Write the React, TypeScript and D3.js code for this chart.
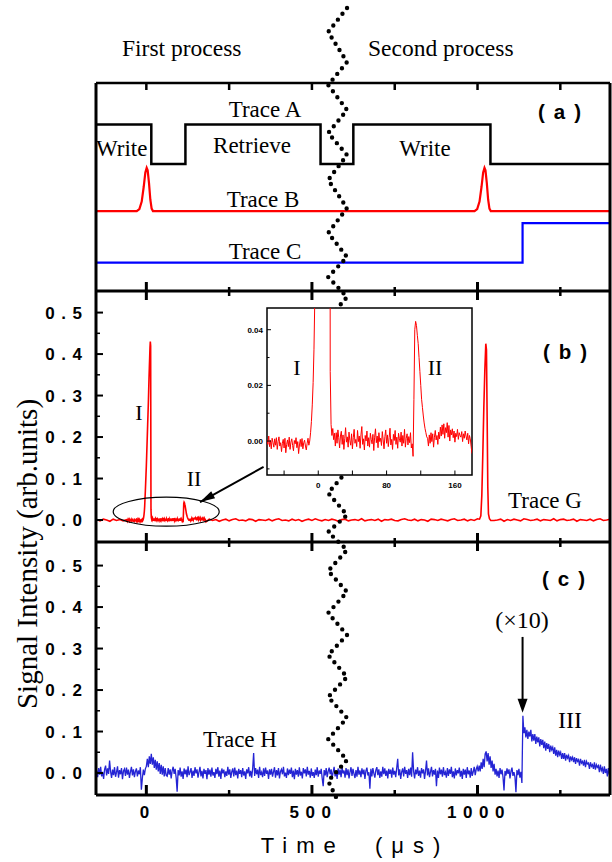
import React from 'react';
import * as d3 from 'd3';

// ---------- data ----------
const majorTimes = [0, 500, 1000];
const minorTimes = [250, 750, 1250];
const yMajor = [0, 0.1, 0.2, 0.3, 0.4, 0.5];
const yMinor = [0.05, 0.15, 0.25, 0.35, 0.45];

// panel (a): schematic traces (arbitrary levels)
const traceATimes = [-152, 15, 118, 526, 625, 1039, 1400];
const traceALevels = [4.0, 3.05, 4.0, 3.05, 4.0, 3.05, 3.05];
const traceBTimes = [-152, -29, -21, -14, -8, -3, 1, 4, 8, 12, 16, 20,
  991, 999, 1006, 1012, 1017, 1021, 1024, 1028, 1032, 1036, 1040, 1400];
const traceBLevels = [1.92, 1.92, 1.97, 2.15, 2.5, 2.85, 2.96, 2.9, 2.6, 2.2, 1.98, 1.92,
  1.92, 1.97, 2.15, 2.5, 2.85, 2.96, 2.9, 2.6, 2.2, 1.98, 1.92, 1.92];
const traceCTimes = [-152, 1136, 1400];
const traceCLevels = [0.68, 1.63, 1.63];

// panel (b): trace G, baseline noise in 1e-3 units, step 10 us
const gNoiseBefore = [1, -2, 2, 0, -3, 2, -1, 1, -2]; // t = -150 .. -70
const gNoiseAfter = [ // t = 190 .. 1400
  2, -1, 1, -3, 0, 2, -2, 1, 3, -1,
  0, -2, 2, 1, -3, 1, 0, -1, 2, -2,
  1, 3, -1, 0, -2, 2, -1, 1, -3, 0,
  2, -1, 3, 0, -2, 1, -1, 2, 0, -3,
  1, 2, -2, 0, 1, -1, 3, -2, 0, 1,
  -1, 2, -3, 1, 0, 2, -1, -2, 1, 3,
  0, -1, 2, -2, 1, 0, -3, 2, 1, -1,
  2, 0, -2, 1, 3, -1, 0, 2, -2, 1,
  -1, 3, 0, -2, 2, 1, -1, 0, 2, -3,
  1, -1, 2, 0, -2, 3, 1, -1, 0, 2,
  -2, 1, 0, -1, 3, -2, 1, 2, -1, 0,
  2, -3, 1, 0, -1, 2, -2, 1, 3, -1,
  0, 2];
const peakIIITimes = [1006, 1010, 1013, 1016, 1019, 1022, 1025, 1027, 1029, 1031, 1033, 1036, 1040];
const peakIIIValues = [0.002, 0.01, 0.06, 0.16, 0.27, 0.36, 0.425, 0.41, 0.25, 0.08, 0.015, 0.003, -0.001];

// inset: trace G from -60 to 180 us, step 1 us, in 1e-4 units
const insetValues = [
  // -60 .. -11
  5, -12, 18, -20, 2, -28, 10, -5, -22, 8,
  -15, 12, -30, -2, 15, -18, -6, -38, -8, 6,
  -25, 10, -42, -12, 4, -20, 14, -30, -4, 8,
  -16, -35, 2, -10, 12, -24, -2, -45, -14, 6,
  -20, 9, -28, -6, 3, -18, -32, -8, 10, -15,
  // -10 .. 16 (peak I)
  0, 30, 70, 130, 210, 330, 520, 700, 900, 1100, 1300, 1550, 1800, 2050, 2300, 2550, 2800,
  3100, 3400, 3650, 3900, 4150, 4300, 4200, 250, 60, 20,
  // 17 .. 109
  45, 5, 28, -18, 30, -8, 40, 12, -25, 18,
  35, -12, 22, -30, 8, 48, -4, 15, -22, 32,
  2, -15, 26, -28, 12, 42, -8, 6, -20, 38,
  -2, 18, -26, 22, 52, -12, 8, -32, 20, 0,
  36, -18, 12, -22, 28, 6, -10, 24, -34, 14,
  44, -6, 18, -24, 30, -2, 10, -16, 34, 4,
  -28, 16, 40, -8, 22, -20, 12, 46, -14, 6,
  -30, 24, 2, 38, -12, 14, -26, 28, 8, -4,
  32, -18, 20, -8, 42, -22, 10, 26, -14, 16,
  -6, 30, -25,
  // 110 .. 128 (peak II)
  -10, -55, 150, 400, 430, 415, 380, 350, 300, 250, 200, 150, 120, 90, 65, 45, 30, 15, 10,
  // 129 .. 180
  -18, 22, -8, 30, -2, 26, -22, 14, 38, 4,
  20, -12, 32, 8, 50, 18, 58, 24, 62, 10,
  48, 30, 66, 14, 56, 0, 40, 22, 44, 12,
  36, -4, 28, 16, 42, 6, 30, 20, 14, 34,
  -2, 26, 10, 36, 18, 4, 28, -10, 20, 8,
  -20, -45];
const insetXTicks = [-40, 0, 40, 80, 120, 160];
const insetXLabels = [0, 80, 160];
const insetYMajor = [0, 0.02, 0.04];
const insetYMinor = [-0.01, 0.01, 0.03];

// panel (c): trace H, 1e-3 units, step 3 us from -150
const traceHValues = [
  // -150 .. -3
  6, -10, 12, -4, 15, -8, 3, -14, 9, 18,
  -6, 11, -2, 30, 4, -12, 8, -5, 14, -9,
  2, 16, -11, 7, -3, 12, -15, 5, 10, -7,
  13, -4, 8, -12, 3, 15, -6, 9, -10, 4,
  11, -8, 6, -3, 14, -40, -12, 8, -5, 10,
  // 0 .. 60
  16, 34, 14, 40, 22, 46, 20, 38, 12, 32, 8, 28, 4, 24, -2, 20, -4, 16, -8, 12, -6,
  // 63 .. 1005
  -8, 12, -4, 9, -13, 6, 15, -2, 10, -11, -45, 7, -6, 13, -9,
  4, -14, 11, -3, 8, -10, 16, -5, 2, 12, -12, 6, -7, 14, -1,
  9, -11, 3, 15, -8, 5, -13, 10, -2, 7, -15, 12, -4, 8, -9,
  13, -6, 2, -12, 10, -3, 14, -9, 6, -14, 11, -1, 8, -10, 4,
  -7, 15, -4, 9, -12, 3, 11, -8, 13, -5, 6, -13, 10, -2, 7,
  -10, 12, -6, 4, -14, 9, -1, 14, -8, 5, -11, 10, 48, -7, 12,
  -3, 8, -12, 15, -5, 2, -10, 11, -7, 13, -2, 6, -14, 9, -4,
  10, -9, 3, 14, -11, 7, -6, 12, -13, 4, 9, -3, 15, -8, 1,
  -12, 11, -5, 8, -2, 13, -10, 6, -15, 10, -4, 7, -9, 14, -6,
  3, -13, 12, -1, 9, -8, 15, -4, 5, -11, 11, -7, 2, -12, 8,
  -5, 14, -9, 6, -2, 10, -13, -32, 7, -6, 12, -10, 4, 13, -3,
  9, -12, 2, 15, -8, 5, -14, 11, -4, 8, -10, 13, -1, 6, -11,
  12, -5, 9, -13, 3, 14, -7, 10, -2, -12, 7, -9, 15, -4, 6,
  -10, 11, -3, 8, -14, 5, 13, -6, 2, -38, 10, -8, 12, -1, -11,
  7, 14, -5, 9, -12, 4, -9, 15, -3, 11, -7, 6, -13, 10, -2,
  8, -11, 13, -4, 5, -10, 12, 34, -6, 9, -14, 3, 11, -8, 15,
  -2, 7, -12, 10, -5, 13, -9, 50, 4, -13, 8, -3, 14, -7, 6,
  -11, 12, -1, 9, -14, 5, 30, -6, 11, -10, 3, 15, -8, 7, -4,
  10, -32, 6, -12, 13, -3, 8, -9, 14, -5, 2, -11, 12, -7, 9,
  -2, 15, -10, 4, -13, 11, -6, 7, -1, 13, -9, 5, -14, 10, -4,
  8, -12, 14, -3, 6, -11, 12, -7, 3, 15, -5, 9, 16, 4, 18,
  // 1008 .. 1050
  4, 26, 10, 34, 14, 46, 52, 28, 48, 20, 40, 12, 30, 4, 22,
  // 1053 .. 1134
  -4, 10, -8, 6, -12, 12, -3, 8, -10, -42, 5, -6, 11, -2, 9, -13, 4, 13, -7, 2, -9, -46, 7, -5, 10, -11, 3, -24,
  // 1137 .. 1398 (III)
  138,
  96, 110, 86, 104, 82, 100, 88, 104, 76, 94,
  78, 94, 70, 88, 74, 86, 64, 82, 68, 80,
  60, 76, 54, 72, 58, 70, 50, 66, 56, 62,
  46, 62, 42, 56, 38, 54, 44, 50, 34, 48,
  34, 48, 30, 44, 36, 42, 26, 40, 32, 38,
  26, 38, 22, 36, 28, 32, 18, 34, 24, 28,
  18, 32, 14, 28, 22, 24, 10, 26, 16, 20,
  10, 26, 8, 20, 14, 18, 2, 20, 6, 12,
  -2, 16, 0, 10, -8, 12, -4];

// ---------- layout ----------
const W = 612, H = 862;
const L = 96, R = 610;
const A_TOP = 83, AB = 291, BC = 542, C_BOT = 795;

const x = d3.scaleLinear().domain([-152, 1400]).range([L, R]);
const yA = d3.scaleLinear().domain([0, 5]).range([AB, A_TOP]);
const yB = d3.scaleLinear().domain([-0.053, 0.552]).range([BC, AB]);
const yC = d3.scaleLinear().domain([-0.053, 0.552]).range([C_BOT, BC + 2]);
const xI = d3.scaleLinear().domain([-60, 180]).range([267, 472]);
const yI = d3.scaleLinear().domain([-0.0122, 0.0478]).range([475, 308]);

// break marker turning points (decoration)
const breakTurnY = [8, 32, 62, 85, 110, 133, 155, 180, 208, 233, 257, 277, 297, 319, 341, 362, 384,
  406, 428, 450, 471, 493, 515, 532, 550, 571, 592, 613, 635, 655, 677, 697, 718, 739, 760, 781];

const serif = '"Liberation Serif", "Times New Roman", serif';
const sans = '"Liberation Sans", Arial, sans-serif';

type P = [number, number];

const App = () => {
  const stepLine = (ys: d3.ScaleLinear<number, number>) =>
    d3.line<P>().x(d => x(d[0])).y(d => ys(d[1])).curve(d3.curveStepAfter);
  const plainLine = (xs: d3.ScaleLinear<number, number>, ys: d3.ScaleLinear<number, number>) =>
    d3.line<P>().x(d => xs(d[0])).y(d => ys(d[1]));

  const aPts: P[] = traceATimes.map((t, i) => [t, traceALevels[i]]);
  const bPts: P[] = traceBTimes.map((t, i) => [t, traceBLevels[i]]);
  const cPts: P[] = traceCTimes.map((t, i) => [t, traceCLevels[i]]);

  const insetPts: P[] = insetValues.map((v, i) => [-60 + i, v / 10000]);
  const gPts: P[] = [
    ...gNoiseBefore.map((v, i) => [-150 + 10 * i, v / 1000] as P),
    ...insetPts,
    ...gNoiseAfter.map((v, i) => [190 + 10 * i, v / 1000] as P).filter(([t]) => t < 1005 || t > 1040),
    ...peakIIITimes.map((t, i) => [t, peakIIIValues[i]] as P),
  ].sort((a, b) => a[0] - b[0]);
  const hPts: P[] = traceHValues.map((v, i) => [-150 + 3 * i, v / 1000]);

  const zig: P[] = breakTurnY.map((yy, i) => [x(i % 2 === 0 ? 606 : 549), yy]);
  zig.push([x(577), 800]);
  const zigPath = d3.line<P>()(zig) as string;

  const arrowHead = (tx: number, ty: number, fx: number, fy: number, len: number, half: number) => {
    const dx = tx - fx, dy = ty - fy, n = Math.hypot(dx, dy);
    const ux = dx / n, uy = dy / n;
    const bx = tx - ux * len, by = ty - uy * len;
    return `M${tx},${ty}L${bx - uy * half},${by + ux * half}L${bx + uy * half},${by - ux * half}Z`;
  };
  const arrB = { fx: x(354), fy: yB(0.128), tx: x(162), ty: yB(0.0434) };
  const arrC = { fx: x(1136), fy: yC(0.328), tx: x(1136), ty: yC(0.145) };

  const sepTicks = (yy: number) => (
    <g>
      {majorTimes.map(t => <line key={'M' + t} x1={x(t)} x2={x(t)} y1={yy - 9} y2={yy + 9} stroke="#000" strokeWidth={3} />)}
      {minorTimes.map(t => <line key={'m' + t} x1={x(t)} x2={x(t)} y1={yy - 4} y2={yy + 5} stroke="#000" strokeWidth={2.5} />)}
    </g>
  );

  const yAxisTicks = (ys: d3.ScaleLinear<number, number>) => (
    <g>
      {yMajor.map(v => <line key={'M' + v} x1={L} x2={L + 7} y1={ys(v)} y2={ys(v)} stroke="#000" strokeWidth={2} />)}
      {yMinor.map(v => <line key={'m' + v} x1={L} x2={L + 4} y1={ys(v)} y2={ys(v)} stroke="#000" strokeWidth={1.5} />)}
      {yMajor.map(v => (
        <text key={'t' + v} x={88.5} y={ys(v) + 6} textAnchor="end" fontFamily={sans} fontWeight="bold"
          fontSize={17} letterSpacing={6.5}>{v.toFixed(1)}</text>
      ))}
    </g>
  );

  const tx = (props: any, s: string) => <text fontFamily={serif} fontSize={23} {...props}>{s}</text>;
  const panelLabel = (px: number, py: number, s: string) => (
    <text x={px} y={py} fontFamily={sans} fontWeight="bold" fontSize={20.5} letterSpacing={9}>{s}</text>
  );

  return (
    <svg width={W} height={H} style={{ position: 'absolute', left: 0, top: 0, background: '#fff' }}>
      <defs>
        <clipPath id="clipA"><rect x={L} y={A_TOP} width={R - L} height={AB - A_TOP} /></clipPath>
        <clipPath id="clipB"><rect x={L} y={AB} width={R - L} height={BC - AB} /></clipPath>
        <clipPath id="clipC"><rect x={L} y={BC} width={R - L} height={C_BOT - BC} /></clipPath>
        <clipPath id="clipI"><rect x={267} y={308} width={205} height={167} /></clipPath>
      </defs>
      <rect x={0} y={0} width={W} height={H} fill="#fff" />

      {tx({ x: 122, y: 56, fontSize: 23.5 }, 'First process')}
      {tx({ x: 368, y: 56, fontSize: 23.5 }, 'Second process')}

      {/* panel (a) */}
      <g clipPath="url(#clipA)">
        <path d={stepLine(yA)(aPts) as string} fill="none" stroke="#000" strokeWidth={2.5} />
        <path d={plainLine(x, yA)(bPts) as string} fill="none" stroke="#ff0000" strokeWidth={2.2} />
        <path d={stepLine(yA)(cPts) as string} fill="none" stroke="#0000ff" strokeWidth={2.2} />
      </g>
      {tx({ x: 265, y: 117, textAnchor: 'middle' }, 'Trace A')}
      {tx({ x: 96, y: 156 }, 'Write')}
      {tx({ x: 252, y: 153, textAnchor: 'middle' }, 'Retrieve')}
      {tx({ x: 425, y: 156, textAnchor: 'middle' }, 'Write')}
      {tx({ x: 263, y: 207, textAnchor: 'middle' }, 'Trace B')}
      {tx({ x: 265, y: 259, textAnchor: 'middle' }, 'Trace C')}
      {panelLabel(538, 119, '(a)')}

      {/* panel (b) */}
      <g clipPath="url(#clipB)">
        <path d={plainLine(x, yB)(gPts) as string} fill="none" stroke="#ff0000" strokeWidth={1.6} />
      </g>
      {yAxisTicks(yB)}
      <ellipse cx={x(60)} cy={yB(0.02)} rx={53} ry={14.5} fill="none" stroke="#000" strokeWidth={1.2} />
      <line x1={arrB.fx} y1={arrB.fy} x2={arrB.tx} y2={arrB.ty} stroke="#000" strokeWidth={2} />
      <path d={arrowHead(arrB.tx, arrB.ty, arrB.fx, arrB.fy, 15, 4)} fill="#000" />
      {tx({ x: 139, y: 420, textAnchor: 'middle', fontSize: 22 }, 'I')}
      {tx({ x: 194, y: 486, textAnchor: 'middle', fontSize: 22 }, 'II')}
      {tx({ x: 545, y: 508, textAnchor: 'middle' }, 'Trace G')}
      {panelLabel(543, 359, '(b)')}

      {/* panel (c) */}
      <g clipPath="url(#clipC)">
        <path d={plainLine(x, yC)(hPts) as string} fill="none" stroke="#2424d4" strokeWidth={1.3} />
      </g>
      {yAxisTicks(yC)}
      <line x1={arrC.fx} y1={arrC.fy} x2={arrC.tx} y2={arrC.ty - 10} stroke="#000" strokeWidth={2} />
      <path d={arrowHead(arrC.tx, arrC.ty, arrC.fx, arrC.fy, 14, 5)} fill="#000" />
      {tx({ x: 522, y: 628, textAnchor: 'middle', fontSize: 24 }, '(×10)')}
      {tx({ x: 570, y: 728, textAnchor: 'middle', fontSize: 24 }, 'III')}
      {tx({ x: 240, y: 747, textAnchor: 'middle' }, 'Trace H')}
      {panelLabel(542, 586, '(c)')}

      {/* break marker */}
      <path d={zigPath} fill="none" stroke="#000" strokeWidth={4.4} strokeLinecap="round" strokeDasharray="0 7.4" />

      {/* inset */}
      <rect x={267} y={308} width={205} height={167} fill="#fff" stroke="#000" strokeWidth={1.5} />
      <g clipPath="url(#clipI)">
        <path d={plainLine(xI, yI)(insetPts) as string} fill="none" stroke="#ff0000" strokeWidth={1} />
      </g>
      {insetYMajor.map(v => <line key={'iy' + v} x1={267} x2={271} y1={yI(v)} y2={yI(v)} stroke="#000" strokeWidth={1} />)}
      {insetYMinor.map(v => <line key={'iym' + v} x1={267} x2={269.5} y1={yI(v)} y2={yI(v)} stroke="#000" strokeWidth={1} />)}
      {insetYMajor.map(v => (
        <text key={'iyt' + v} x={263} y={yI(v) + 3} textAnchor="end" fontFamily={sans} fontWeight="bold" fontSize={8}>{v.toFixed(2)}</text>
      ))}
      {insetXTicks.map(t => <line key={'ix' + t} x1={xI(t)} x2={xI(t)} y1={475} y2={470.5} stroke="#000" strokeWidth={1} />)}
      {insetXLabels.map(t => (
        <text key={'ixt' + t} x={xI(t)} y={488} textAnchor="middle" fontFamily={sans} fontWeight="bold" fontSize={8}>{t}</text>
      ))}
      {tx({ x: 297, y: 375, textAnchor: 'middle', fontSize: 22 }, 'I')}
      {tx({ x: 435, y: 375, textAnchor: 'middle', fontSize: 22 }, 'II')}

      {/* frame */}
      <line x1={L} x2={L} y1={A_TOP} y2={C_BOT} stroke="#000" strokeWidth={3} />
      <line x1={R} x2={R} y1={A_TOP} y2={C_BOT} stroke="#000" strokeWidth={3} />
      <line x1={L} x2={R} y1={A_TOP} y2={A_TOP} stroke="#000" strokeWidth={2.5} />
      <line x1={L} x2={R} y1={AB} y2={AB} stroke="#000" strokeWidth={3} />
      <line x1={L} x2={R} y1={BC} y2={BC} stroke="#000" strokeWidth={3} />
      <line x1={L} x2={R} y1={C_BOT} y2={C_BOT} stroke="#000" strokeWidth={3} />
      {[...majorTimes, ...minorTimes].map(t => (
        <line key={'top' + t} x1={x(t)} x2={x(t)} y1={A_TOP} y2={A_TOP + 7} stroke="#000" strokeWidth={2.5} />
      ))}
      {sepTicks(AB)}
      {sepTicks(BC)}
      {majorTimes.map(t => <line key={'bM' + t} x1={x(t)} x2={x(t)} y1={C_BOT} y2={C_BOT - 10} stroke="#000" strokeWidth={3} />)}
      {minorTimes.map(t => <line key={'bm' + t} x1={x(t)} x2={x(t)} y1={C_BOT} y2={C_BOT - 5} stroke="#000" strokeWidth={2.5} />)}

      {majorTimes.map(t => (
        <text key={'xl' + t} x={x(t) + 1.5} y={818} textAnchor="middle" fontFamily={sans} fontWeight="bold"
          fontSize={17} letterSpacing={6.5}>{t}</text>
      ))}
      <text x={355} y={853} textAnchor="middle" fontFamily={sans} fontSize={22} letterSpacing={9}
        style={{ whiteSpace: 'pre' }}>{'Time  (μs)'}</text>
      <text transform="translate(37,554) rotate(-90)" textAnchor="middle" fontFamily={serif} fontSize={29}>
        Signal Intensity (arb.units)
      </text>
    </svg>
  );
};

export default App;
